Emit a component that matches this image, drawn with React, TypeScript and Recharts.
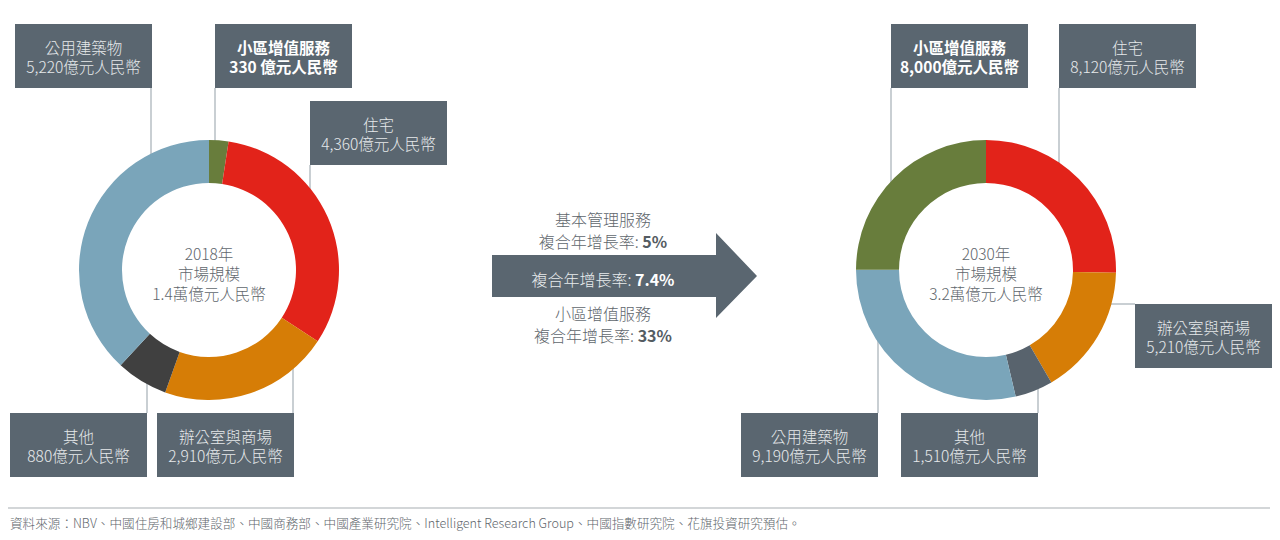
import React from 'react';
import { PieChart, Pie, Cell } from 'recharts';

// ---- data ----
const leftCategories = ['小區增值服務', '住宅', '辦公室與商場', '其他', '公用建築物'];
const leftValues = [330, 4360, 2910, 880, 5220];
const leftValueLabels = ['330 億元人民幣', '4,360億元人民幣', '2,910億元人民幣', '880億元人民幣', '5,220億元人民幣'];
const leftColors = ['#687d3c', '#e2231a', '#d67d06', '#404040', '#7aa5ba'];
const leftCenterLines = ['2018年', '市場規模', '1.4萬億元人民幣'];

const rightCategories = ['住宅', '辦公室與商場', '其他', '公用建築物', '小區增值服務'];
const rightValues = [8120, 5210, 1510, 9190, 8000];
const rightValueLabels = ['8,120億元人民幣', '5,210億元人民幣', '1,510億元人民幣', '9,190億元人民幣', '8,000億元人民幣'];
const rightColors = ['#e2231a', '#d67d06', '#58636d', '#7aa5ba', '#687d3c'];
const rightCenterLines = ['2030年', '市場規模', '3.2萬億元人民幣'];

const boldCategory = '小區增值服務';

const arrowTop = ['基本管理服務', '複合年增長率: ', '5%'];
const arrowMid = ['複合年增長率: ', '7.4%'];
const arrowBottom = ['小區增值服務', '複合年增長率: ', '33%'];

const sourceNote = '資料來源：NBV、中國住房和城鄉建設部、中國商務部、中國產業研究院、Intelligent Research Group、中國指數研究院、花旗投資研究預估。';

// ---- layout ----
const W = 1280;
const H = 540;
const FONT = "'Noto Sans CJK TC', 'Noto Sans', sans-serif";
const BOX = '#5a6670';
const LINE = '#b7bfc5';
const INNER = 87;
const OUTER = 130;
const LEFT_C = { x: 209, y: 270 };
const RIGHT_C = { x: 986, y: 270 };

type Anchor = { x: number; y: number; w: number; h: number; lineX?: number; lineY?: number; side: 'top' | 'bottom' | 'left' };

const leftLayout: Record<string, Anchor> = {
  '公用建築物': { x: 15, y: 24, w: 137, h: 64, lineX: 151, side: 'bottom' },
  '小區增值服務': { x: 215, y: 24, w: 137, h: 64, lineX: 215, side: 'bottom' },
  '住宅': { x: 310, y: 101, w: 137, h: 64, lineX: 310, side: 'bottom' },
  '其他': { x: 10, y: 413, w: 137, h: 64, lineX: 147, side: 'top' },
  '辦公室與商場': { x: 157, y: 413, w: 137, h: 64, lineX: 293, side: 'top' },
};
const rightLayout: Record<string, Anchor> = {
  '小區增值服務': { x: 891, y: 24, w: 137, h: 64, lineX: 891, side: 'bottom' },
  '住宅': { x: 1059, y: 24, w: 137, h: 64, lineX: 1059, side: 'bottom' },
  '辦公室與商場': { x: 1135, y: 304, w: 137, h: 64, lineY: 304, side: 'left' },
  '公用建築物': { x: 741, y: 413, w: 137, h: 64, lineX: 878, side: 'top' },
  '其他': { x: 901, y: 413, w: 137, h: 64, lineX: 1038, side: 'top' },
};

function leader(a: Anchor, c: { x: number; y: number }) {
  if (a.side === 'left' && a.lineY !== undefined) {
    const dy = a.lineY - c.y;
    const dx = Math.sqrt(OUTER * OUTER - dy * dy);
    return { x1: c.x + dx - 3, y1: a.lineY, x2: a.x, y2: a.lineY };
  }
  const lx = a.lineX as number;
  const dx = lx - c.x;
  const dy = Math.sqrt(Math.max(0, OUTER * OUTER - dx * dx));
  if (a.side === 'bottom') {
    return { x1: lx, y1: a.y + a.h, x2: lx, y2: c.y - dy + 3 };
  }
  return { x1: lx, y1: a.y, x2: lx, y2: c.y + dy - 3 };
}

function Labels({ cats, vals, layout, c }: { cats: string[]; vals: string[]; layout: Record<string, Anchor>; c: { x: number; y: number } }) {
  return (
    <g>
      {cats.map((cat, i) => {
        const a = layout[cat];
        const l = leader(a, c);
        const bold = cat === boldCategory;
        const cx = a.x + a.w / 2;
        const cy = a.y + a.h / 2;
        const weight = bold ? 700 : 300;
        const fill = bold ? '#ffffff' : '#e6e9eb';
        return (
          <g key={cat}>
            <line x1={l.x1} y1={l.y1} x2={l.x2} y2={l.y2} stroke={LINE} strokeWidth={1.5} />
            <rect x={a.x} y={a.y} width={a.w} height={a.h} fill={BOX} />
            <text x={cx} y={cy - 9.5} textAnchor="middle" dominantBaseline="central" fontFamily={FONT} fontSize={15.5} fontWeight={weight} fill={fill}>
              {cat}
            </text>
            <text x={cx} y={cy + 10} textAnchor="middle" dominantBaseline="central" fontFamily={FONT} fontSize={15.5} fontWeight={weight} fill={fill}>
              {vals[i]}
            </text>
          </g>
        );
      })}
    </g>
  );
}

function CenterText({ lines, c }: { lines: string[]; c: { x: number; y: number } }) {
  return (
    <g>
      {lines.map((t, i) => (
        <text key={i} x={c.x} y={c.y - 17 + i * 20} textAnchor="middle" dominantBaseline="central" fontFamily={FONT} fontSize={15.5} fontWeight={300} fill="#5f676d">
          {t}
        </text>
      ))}
    </g>
  );
}

export default function App() {
  const leftData = leftCategories.map((name, i) => ({ name, value: leftValues[i] }));
  const rightData = rightCategories.map((name, i) => ({ name, value: rightValues[i] }));

  return (
    <div style={{ position: 'absolute', left: 0, top: 0, width: W, height: H, background: '#ffffff', overflow: 'hidden' }}>
      <svg width={W} height={H} style={{ position: 'absolute', left: 0, top: 0 }}>
        <Labels cats={leftCategories} vals={leftValueLabels} layout={leftLayout} c={LEFT_C} />
        <Labels cats={rightCategories} vals={rightValueLabels} layout={rightLayout} c={RIGHT_C} />

        {/* arrow */}
        <polygon points="492,255 716,255 716,233 757,276 716,318 716,297 492,297" fill={BOX} />
        <text x={603} y={279} textAnchor="middle" dominantBaseline="central" fontFamily={FONT} fontSize={16} fill="#ffffff">
          <tspan fill="#e8ebed" fontWeight={300}>{arrowMid[0]}</tspan>
          <tspan fontWeight={700}>{arrowMid[1]}</tspan>
        </text>
        <text x={603} y={219} textAnchor="middle" dominantBaseline="central" fontFamily={FONT} fontSize={16} fontWeight={300} fill="#5f676d">
          {arrowTop[0]}
        </text>
        <text x={603} y={241} textAnchor="middle" dominantBaseline="central" fontFamily={FONT} fontSize={16} fontWeight={300} fill="#5f676d">
          <tspan>{arrowTop[1]}</tspan>
          <tspan fontWeight={700} fill="#545c62">{arrowTop[2]}</tspan>
        </text>
        <text x={603} y={313} textAnchor="middle" dominantBaseline="central" fontFamily={FONT} fontSize={16} fontWeight={300} fill="#5f676d">
          {arrowBottom[0]}
        </text>
        <text x={603} y={335} textAnchor="middle" dominantBaseline="central" fontFamily={FONT} fontSize={16} fontWeight={300} fill="#5f676d">
          <tspan>{arrowBottom[1]}</tspan>
          <tspan fontWeight={700} fill="#545c62">{arrowBottom[2]}</tspan>
        </text>

        <CenterText lines={leftCenterLines} c={LEFT_C} />
        <CenterText lines={rightCenterLines} c={RIGHT_C} />

        {/* footer */}
        <line x1={8} y1={508} x2={1270} y2={508} stroke="#c4c8cb" strokeWidth={1.5} />
        <text x={10} y={522} dominantBaseline="central" fontFamily={FONT} fontSize={12.6} fontWeight={300} fill="#5f676d">
          {sourceNote}
        </text>
      </svg>

      <div style={{ position: 'absolute', left: 0, top: 0 }}>
        <PieChart width={W} height={H} margin={{ top: 0, right: 0, bottom: 0, left: 0 }}>
          <Pie
            data={leftData}
            dataKey="value"
            nameKey="name"
            cx={LEFT_C.x}
            cy={LEFT_C.y}
            innerRadius={INNER}
            outerRadius={OUTER}
            startAngle={90}
            endAngle={-270}
            stroke="none"
            isAnimationActive={false}
          >
            {leftData.map((d, i) => (
              <Cell key={d.name} fill={leftColors[i]} />
            ))}
          </Pie>
          <Pie
            data={rightData}
            dataKey="value"
            nameKey="name"
            cx={RIGHT_C.x}
            cy={RIGHT_C.y}
            innerRadius={INNER}
            outerRadius={OUTER}
            startAngle={90}
            endAngle={-270}
            stroke="none"
            isAnimationActive={false}
          >
            {rightData.map((d, i) => (
              <Cell key={d.name} fill={rightColors[i]} />
            ))}
          </Pie>
        </PieChart>
      </div>
    </div>
  );
}
